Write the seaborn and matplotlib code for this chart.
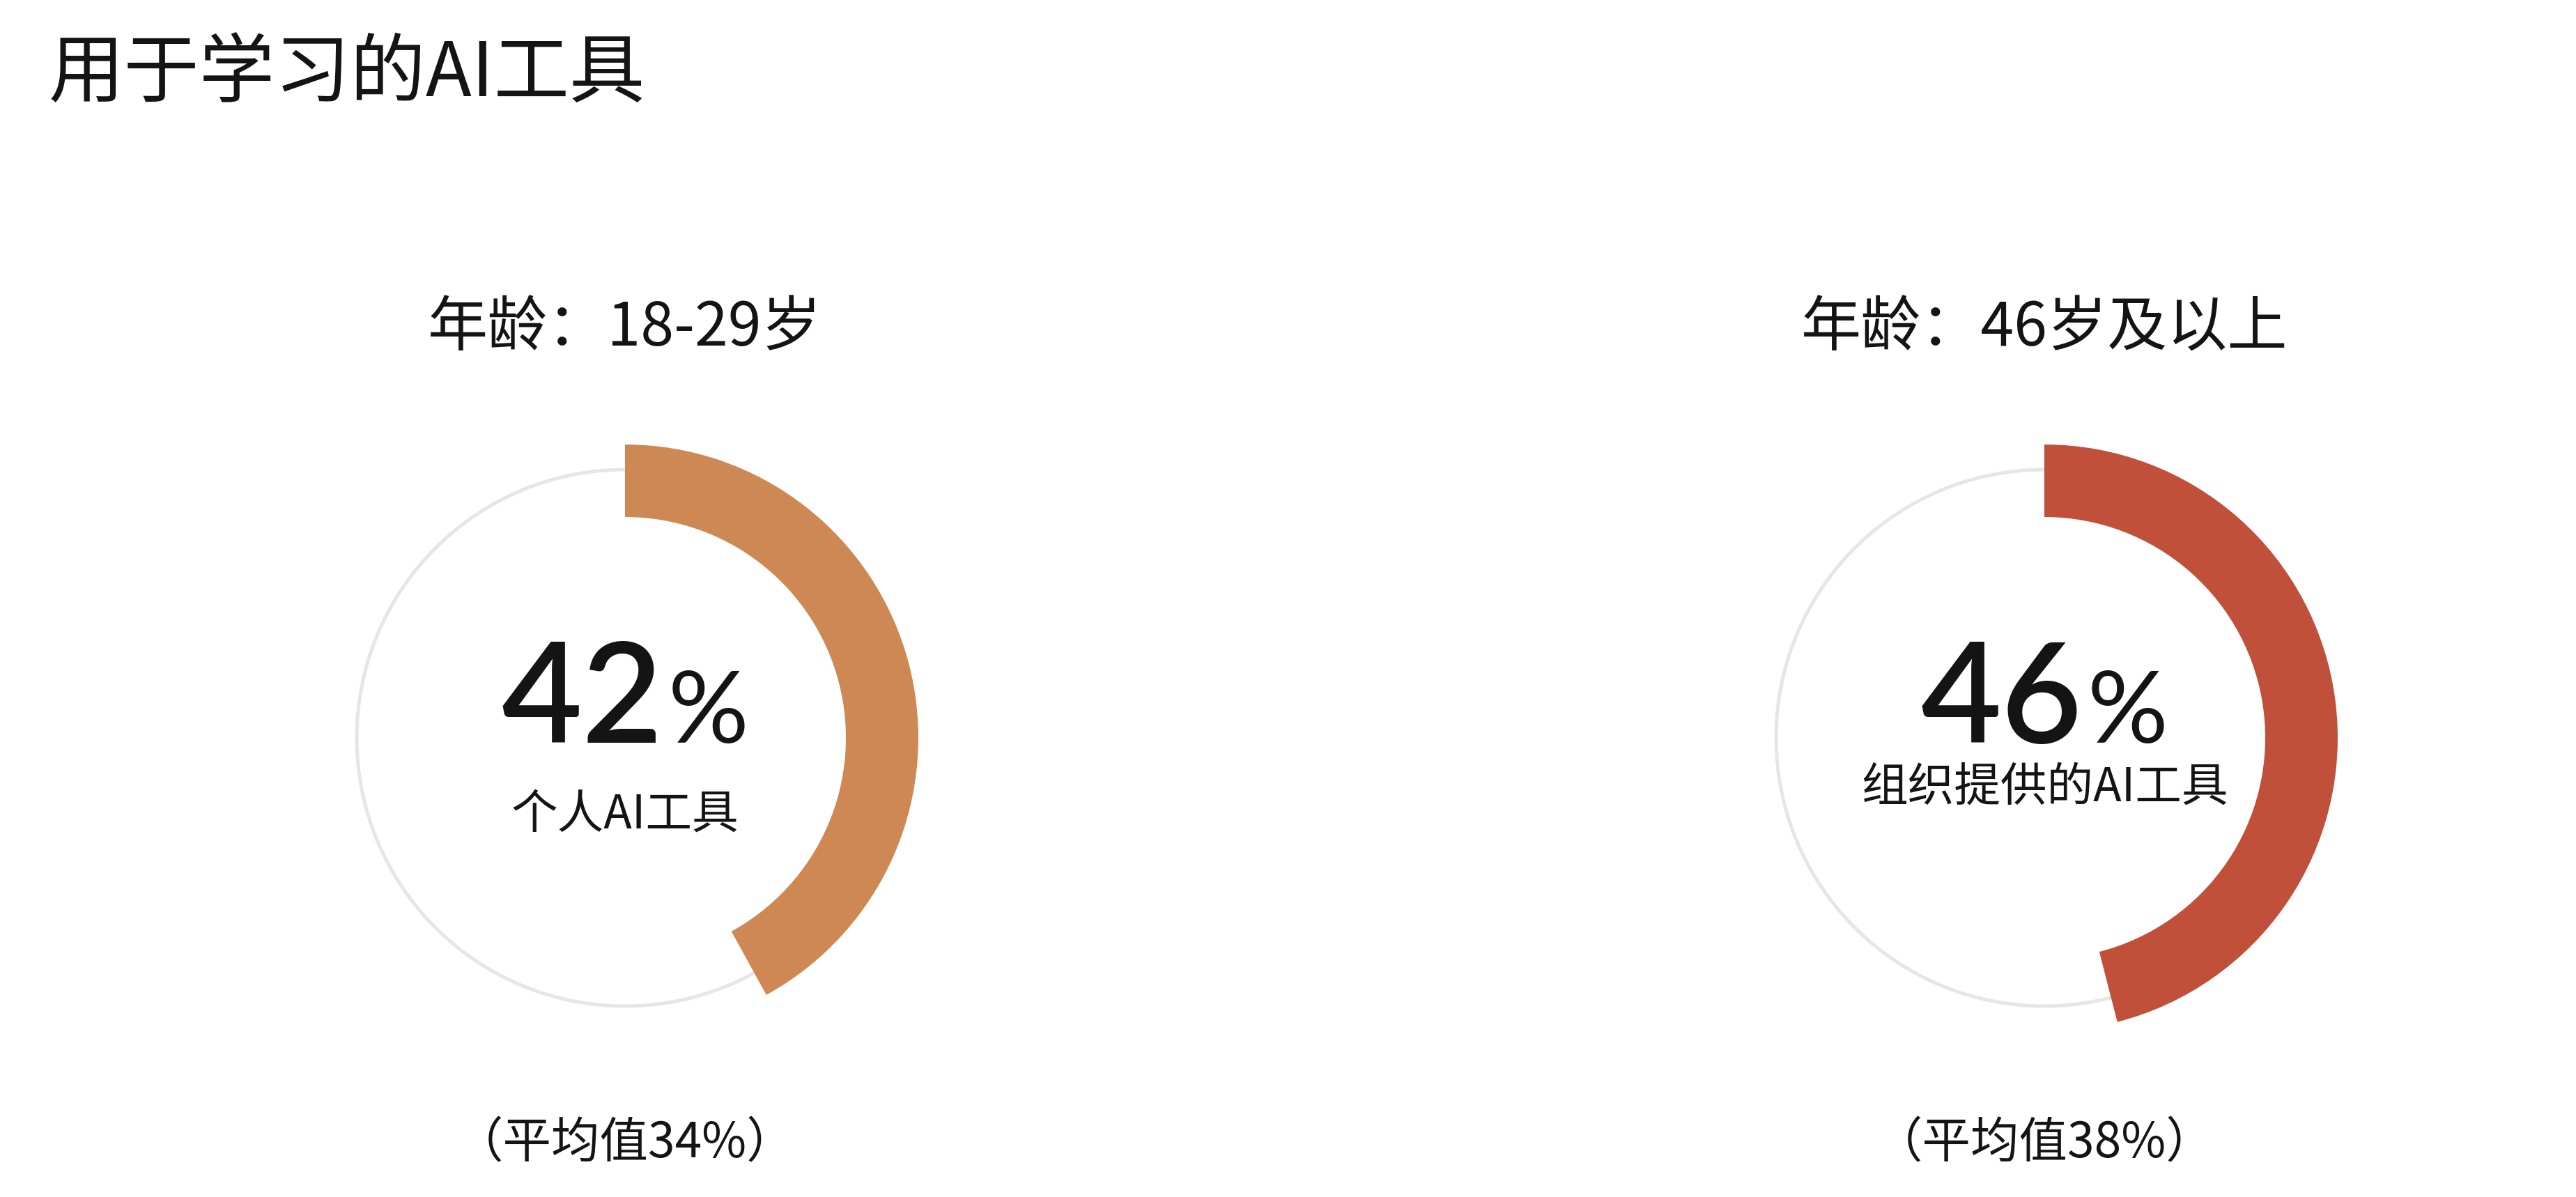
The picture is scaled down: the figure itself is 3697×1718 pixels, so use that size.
import numpy as np
import matplotlib
matplotlib.use("Agg")
import matplotlib.pyplot as plt
import seaborn as sns

# chart data
title = "用于学习的AI工具"
groups = ["年龄：18-29岁", "年龄：46岁及以上"]
shares = [42, 46]
tool_labels = ["个人AI工具", "组织提供的AI工具"]
averages = [34, 38]
colors = ["#CD8854", "#C0503A"]

sns.set_theme(style="white")
plt.rcParams['font.family'] = ['Noto Sans CJK SC', 'DejaVu Sans']

W, H, DPI = 3698, 1718, 200
fig = plt.figure(figsize=(W / DPI, H / DPI), dpi=DPI)
fig.patch.set_facecolor("white")


def px(x, y):
    # pixel position (from top-left) -> figure fraction
    return x / W, 1 - y / H


fig.text(*px(70, 108), title, ha="left", va="center", fontsize=39,
         color="#141414")

centers_x = [897, 2934]
cy = 1059
r_out = 421
box = 1000
label_y = [1170, 1131]

for i in range(len(shares)):
    cx = centers_x[i]
    ax = fig.add_axes([(cx - box / 2) / W, (H - cy - box / 2) / H, box / W, box / H])
    # thin gray full ring behind
    ax.pie([100], radius=387.5 / r_out, colors=["#E6E6E6"], startangle=90,
           wedgeprops=dict(width=5 / r_out, linewidth=0))
    # value arc, clockwise from 12 o'clock
    ax.pie([shares[i], 100 - shares[i]], radius=1.0, colors=[colors[i], "none"],
           startangle=90, counterclock=False,
           wedgeprops=dict(width=(r_out - 317) / r_out, linewidth=0))
    lim = box / 2 / r_out
    ax.set_xlim(-lim, lim)
    ax.set_ylim(-lim, lim)
    ax.set_aspect("equal")
    ax.axis("off")

    fig.text(*px(cx, 472), groups[i], ha="center", va="center", fontsize=31,
             fontweight="medium", color="#141414")
    fig.text(*px(cx + 54, 1066), str(shares[i]), ha="right", va="baseline",
             fontsize=72, fontweight="semibold", family=["Lato", "DejaVu Sans"],
             color="#141414")
    fig.text(*px(cx + 62, 1066), "%", ha="left", va="baseline",
             fontsize=52, family=["Lato", "DejaVu Sans"], color="#141414")
    fig.text(*px(cx, label_y[i]), tool_labels[i], ha="center", va="center",
             fontsize=24, color="#141414")
    fig.text(*px(cx, 1642), f"（平均值{averages[i]}%）", ha="center", va="center",
             fontsize=25, fontweight="medium", color="#141414")

fig.savefig("out.png", dpi=DPI, facecolor="white")
